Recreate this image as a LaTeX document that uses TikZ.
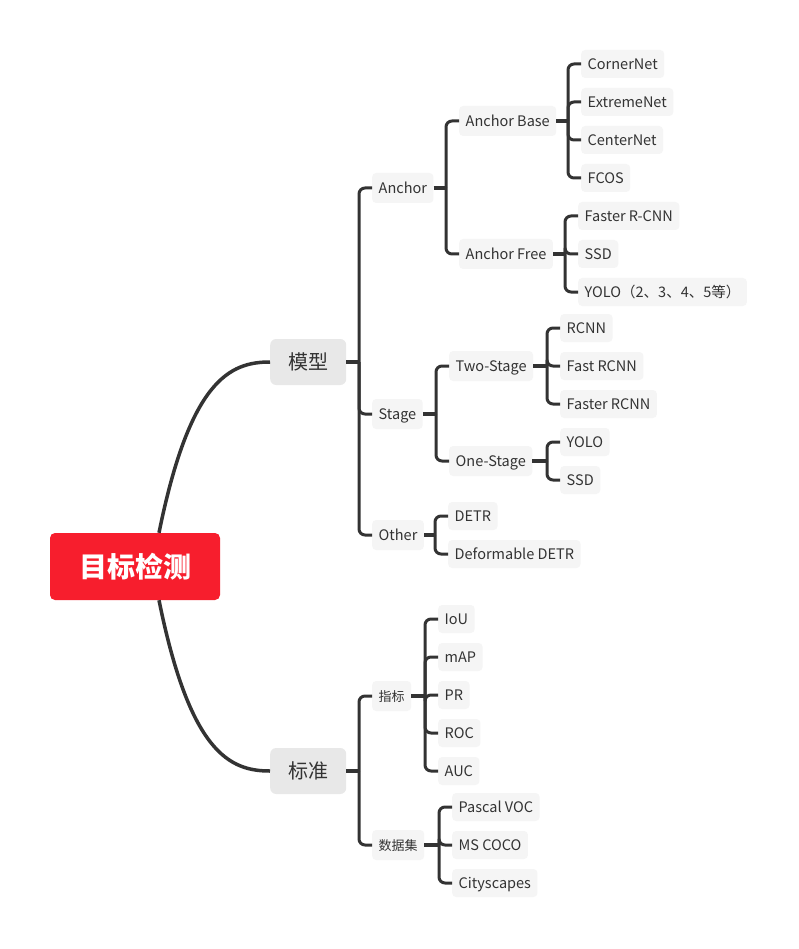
\documentclass[tikz,border=0pt]{standalone}
\usepackage{fontspec}
\setmainfont{Noto Sans CJK SC}
\usetikzlibrary{calc}
\definecolor{rootred}{HTML}{F71E2D}
\definecolor{lncol}{HTML}{333333}
\definecolor{mainfill}{HTML}{E8E8E8}
\definecolor{leaffill}{HTML}{F5F5F5}
\definecolor{txt}{HTML}{333333}
\newcommand\mybranch[3]{%
  \coordinate (#1-b) at ($(#2.west |- #1.east)+(-13,0)$);
  \draw[stub] (#1.east) -- (#1-b);
  \foreach \c in {#3} \draw[conn] (#1-b) |- (\c.west);
}
\begin{document}
\begin{tikzpicture}[x=1pt,y=-1pt,
  rootnode/.style={fill=rootred, rounded corners=5pt, text=white, font=\fontsize{28}{30}\selectfont\bfseries, minimum width=170pt, minimum height=67pt, inner sep=0pt},
  mainnode/.style={fill=mainfill, rounded corners=6pt, text=txt, font=\fontsize{20}{22}\selectfont, minimum width=76pt, minimum height=46pt, inner sep=0pt, anchor=west},
  leaf/.style={fill=leaffill, rounded corners=4pt, text=txt, font=\fontsize{14.5}{16}\selectfont, minimum height=28pt, inner xsep=6.5pt, inner ysep=0pt, text height=11pt, text depth=0pt, anchor=west},
  subnode/.style={leaf, minimum height=30pt},
  cnsub/.style={subnode, font=\fontsize{13}{15}\selectfont, text height=10pt},
  conn/.style={draw=lncol, line width=3pt, rounded corners=6pt},
  stub/.style={draw=lncol, line width=4pt},
  curve/.style={draw=lncol, line width=3.5pt}
]
\useasboundingbox[fill=white] (0,0) rectangle (798,949);

% root and main branches
\node[rootnode] (root) at (135,566.5) {目标检测};
\node[mainnode] (mx) at (270,362) {模型};
\node[mainnode] (bz) at (270,771) {标准};
\draw[curve] ([xshift=24pt]root.north) .. controls +(31,-153) and +(-40,0) .. (mx.west);
\draw[curve] ([xshift=24pt]root.south) .. controls +(31,153) and +(-40,0) .. (bz.west);

% 模型 subtree
\node[subnode] (anc) at (372,188) {Anchor};
\node[subnode] (stg) at (372,414) {Stage};
\node[subnode] (oth) at (372,535) {Other};

\node[subnode] (ab) at (459,121) {Anchor Base};
\node[subnode] (af) at (459,254) {Anchor Free};

\node[leaf] (cn) at (581,64) {CornerNet};
\node[leaf] (exn) at (581,102) {ExtremeNet};
\node[leaf] (ctn) at (581,140) {CenterNet};
\node[leaf] (fcos) at (581,178) {FCOS};

\node[leaf] (frcnn) at (578,216) {Faster R-CNN};
\node[leaf] (ssda) at (578,254) {SSD};
\node[leaf] (yoloa) at (578,292) {YOLO（2、3、4、5等）};

\node[subnode] (ts) at (449,366) {Two-Stage};
\node[subnode] (os) at (449,461) {One-Stage};

\node[leaf] (rcnn) at (560,328) {RCNN};
\node[leaf] (fast) at (560,366) {Fast RCNN};
\node[leaf] (faster) at (560,404) {Faster RCNN};
\node[leaf] (yolob) at (560,442) {YOLO};
\node[leaf] (ssdb) at (560,480) {SSD};

\node[leaf] (detr) at (448,516) {DETR};
\node[leaf] (ddetr) at (448,554) {Deformable DETR};

% 标准 subtree
\node[cnsub] (zb) at (372,696) {指标};
\node[cnsub] (sjj) at (372,845) {数据集};

\node[leaf] (iou) at (438,619) {IoU};
\node[leaf] (map) at (438,657) {mAP};
\node[leaf] (pr) at (438,695) {PR};
\node[leaf] (roc) at (438,733) {ROC};
\node[leaf] (auc) at (438,771) {AUC};

\node[leaf] (voc) at (452,807) {Pascal VOC};
\node[leaf] (coco) at (452,845) {MS COCO};
\node[leaf] (city) at (452,883) {Cityscapes};

% connectors
\mybranch{mx}{anc}{anc,stg,oth}
\mybranch{anc}{ab}{ab,af}
\mybranch{ab}{cn}{cn,exn,ctn,fcos}
\mybranch{af}{frcnn}{frcnn,ssda,yoloa}
\mybranch{stg}{ts}{ts,os}
\mybranch{ts}{rcnn}{rcnn,fast,faster}
\mybranch{os}{yolob}{yolob,ssdb}
\mybranch{oth}{detr}{detr,ddetr}
\mybranch{bz}{zb}{zb,sjj}
\mybranch{zb}{iou}{iou,map,pr,roc,auc}
\mybranch{sjj}{voc}{voc,coco,city}
\end{tikzpicture}
\end{document}
